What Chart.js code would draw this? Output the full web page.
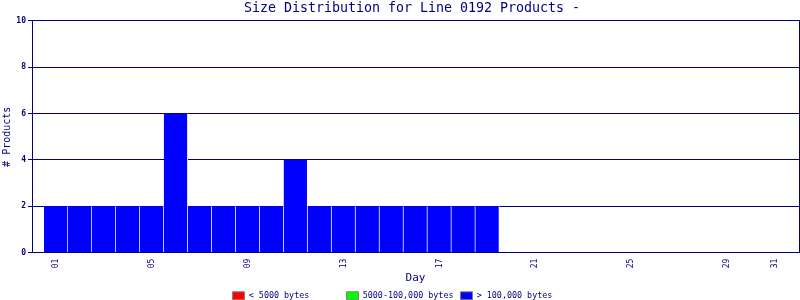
<!DOCTYPE html>
<html>
<head>
<meta charset="utf-8">
<script src="https://cdn.jsdelivr.net/npm/chart.js@4/dist/chart.umd.min.js"></script>
<style>
  html, body { margin: 0; padding: 0; background: #fff; }
  #wrap { width: 800px; height: 300px; }
</style>
</head>
<body>
<div id="wrap"><canvas id="chart"></canvas></div>
<script>
// data
var days = [1,2,3,4,5,6,7,8,9,10,11,12,13,14,15,16,17,18,19];
var small = [];     // < 5000 bytes
var medium = [];    // 5000-100,000 bytes
var large = [2,2,2,2,2,6,2,2,2,2,4,2,2,2,2,2,2,2,2];
var dayTicks = [1,5,9,13,17,21,25,29,31];
var yTicks = [0,2,4,6,8,10];
var seriesNames = ['< 5000 bytes', '5000-100,000 bytes', '> 100,000 bytes'];

var navy = '#000080';
var mono = 'DejaVu Sans Mono';

function pts(vals) {
  return vals.map(function(v, i){ return {x: days[i], y: v}; });
}

var ctx = document.getElementById('chart');
new Chart(ctx, {
  type: 'bar',
  data: {
    datasets: [
      {label: seriesNames[0], data: pts(small), backgroundColor: '#ff0000', borderWidth: 0, grouped: false},
      {label: seriesNames[1], data: pts(medium), backgroundColor: '#00ff00', borderWidth: 0, grouped: false},
      {label: seriesNames[2], data: pts(large), backgroundColor: '#0000ff', borderColor: '#ffffff',
       borderWidth: {left: 0, top: 0, bottom: 0, right: 1}, borderSkipped: false, grouped: false,
       barPercentage: 1, categoryPercentage: 1}
    ]
  },
  options: {
    responsive: true,
    maintainAspectRatio: false,
    animation: false,
    layout: {padding: {left: 0, right: 0, top: 0, bottom: -10}},
    plugins: {
      tooltip: {enabled: false},
      title: {
        display: true,
        text: '   Size Distribution for Line 0192 Products -',
        color: navy,
        font: {family: mono, size: 13.3, weight: 'normal'},
        padding: {top: 1, bottom: 4}
      },
      legend: {
        position: 'bottom',
        labels: {
          color: navy,
          font: {family: mono, size: 8.4},
          boxWidth: 12,
          boxHeight: 8,
          padding: 7,
          generateLabels: function(chart) {
            return chart.data.datasets.map(function(ds, i){
              var t = ds.label;
              if (i === 0) t = t + '      ';
              if (i === 2) t = t + '   ';
              return {text: t, fillStyle: ds.backgroundColor, strokeStyle: '#808080',
                      lineWidth: 1, fontColor: navy, datasetIndex: i, hidden: false};
            });
          }
        }
      }
    },
    scales: {
      x: {
        type: 'linear',
        min: 0,
        max: 32,
        offset: false,
        grid: {display: false, drawTicks: false},
        border: {display: true, color: navy, width: 1},
        afterBuildTicks: function(scale){
          scale.ticks = dayTicks.map(function(v){ return {value: v}; });
        },
        ticks: {
          color: navy,
          font: {family: mono, size: 8},
          minRotation: 90,
          maxRotation: 90,
          padding: 6,
          autoSkip: false,
          callback: function(v){ return (v < 10 ? '0' : '') + v; }
        },
        title: {
          display: true,
          text: 'Day',
          color: navy,
          font: {family: mono, size: 11},
          padding: {top: 2, bottom: 0}
        },
        afterFit: function(scale){ scale.height = 32; }
      },
      y: {
        min: 0,
        max: 10,
        afterBuildTicks: function(scale){
          scale.ticks = yTicks.map(function(v){ return {value: v}; });
        },
        grid: {color: navy, lineWidth: 1, tickLength: 4},
        border: {display: true, color: navy, width: 1},
        ticks: {
          color: navy,
          font: {family: mono, size: 8, weight: 'bold'},
          padding: 2
        },
        title: {
          display: true,
          text: '# Products',
          color: navy,
          font: {family: mono, size: 10},
          padding: {top: 1.5, bottom: 2}
        },
        afterFit: function(scale){ scale.width = 32; }
      },
      y2: {
        position: 'right',
        min: 0,
        max: 10,
        grid: {display: false},
        ticks: {display: false},
        border: {display: true, color: navy, width: 1},
        afterFit: function(scale){ scale.width = 1; }
      }
    }
  }
});
</script>
</body>
</html>
